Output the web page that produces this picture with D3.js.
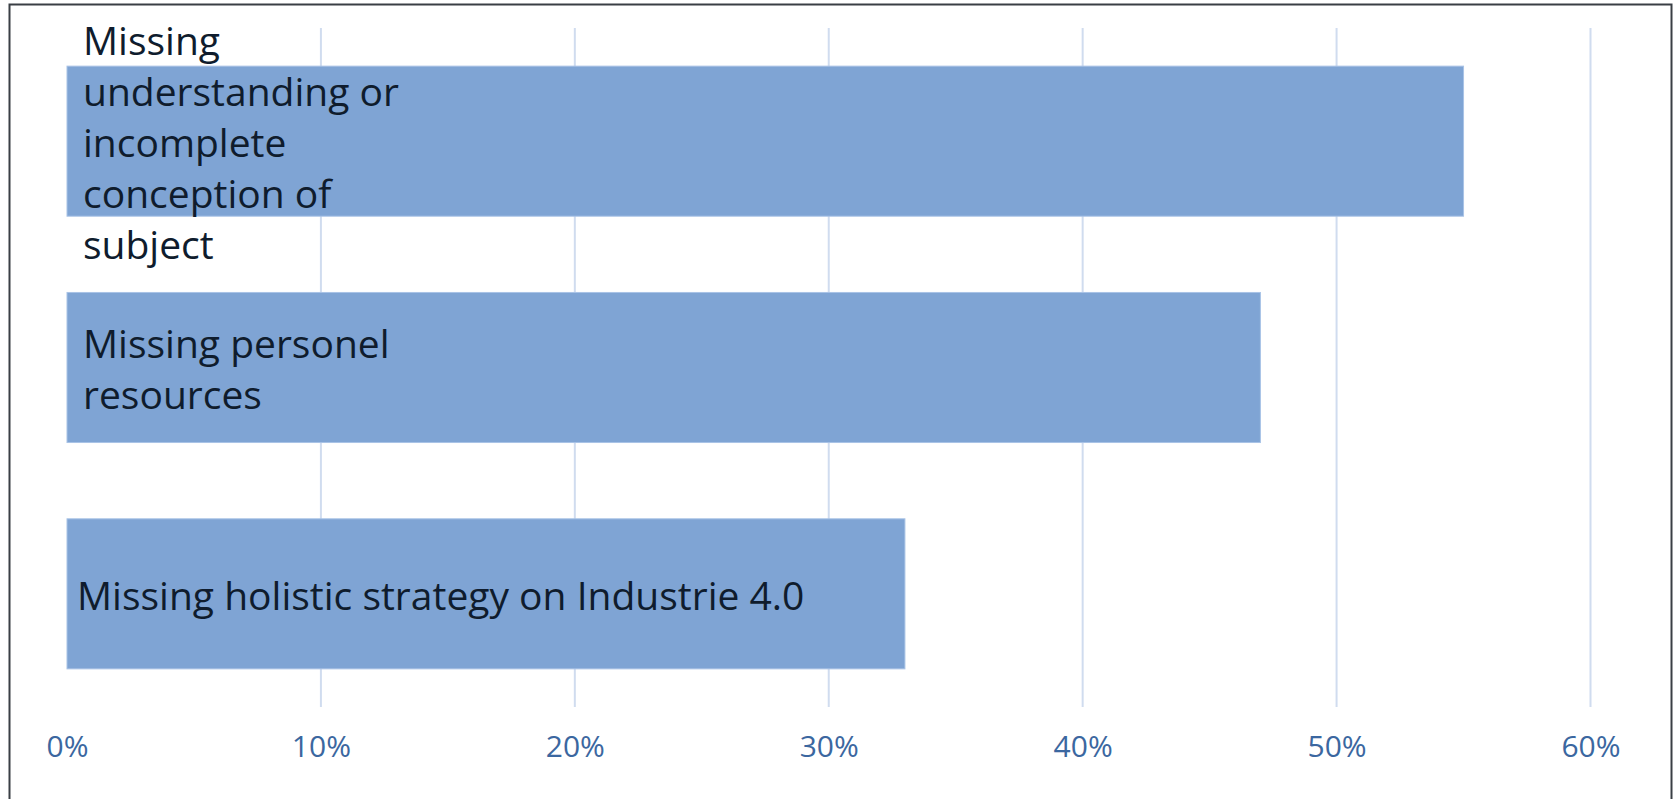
<!DOCTYPE html>
<meta charset="utf-8">
<style>
body { margin: 0; background: #fff; }
.label text { font: 39px "Open Sans", sans-serif; fill: #0f1c2d; }
.tick text { font: 30px "Open Sans", sans-serif; fill: #3b67a0; }
</style>
<body>
<svg width="1674" height="799"></svg>
<script src="https://cdnjs.cloudflare.com/ajax/libs/d3/7.8.5/d3.min.js"></script>
<script>
// categories, top to bottom
var categories = ["understanding", "personel", "strategy"];
var labels = [
  ["Missing", "understanding or", "incomplete", "conception of", "subject"],
  ["Missing personel", "resources"],
  ["Missing holistic strategy on Industrie 4.0"]
];
var values = [0.55, 0.47, 0.33];
var ticks = [0, 0.1, 0.2, 0.3, 0.4, 0.5, 0.6];

var svg = d3.select("svg"),
    width = +svg.attr("width"),
    height = +svg.attr("height");

// outer frame
svg.append("rect")
  .attr("x", 9.5).attr("y", 4.5)
  .attr("width", width - 12).attr("height", height)
  .attr("fill", "none")
  .attr("stroke", "#3a3f45")
  .attr("stroke-width", 2);

var x = d3.scaleLinear().domain([0, 0.6]).range([67, 1590.5]);
var y = d3.scaleBand().domain(categories).range([28, 707])
  .paddingInner(0.337).paddingOuter(0.1685);

// gridlines
svg.append("g")
  .selectAll("line")
  .data(ticks.filter(function(t) { return t > 0; }))
  .enter().append("line")
  .attr("x1", function(d) { return x(d); })
  .attr("x2", function(d) { return x(d); })
  .attr("y1", 28).attr("y2", 707)
  .attr("stroke", "#d0dcef")
  .attr("stroke-width", 2);

// bars
svg.append("g")
  .selectAll("rect")
  .data(values)
  .enter().append("rect")
  .attr("x", x(0))
  .attr("y", function(d, i) { return y(categories[i]); })
  .attr("width", function(d) { return x(d) - x(0); })
  .attr("height", y.bandwidth())
  .attr("fill", "#7fa4d4")
  .attr("stroke", "#a9c3e6")
  .attr("stroke-width", 1);

// labels inside bars
var lineH = 51;
var lab = svg.append("g").attr("class", "label")
  .selectAll("text")
  .data(labels)
  .enter().append("text")
  .attr("y", function(d, i) {
    return y(categories[i]) + y.bandwidth() / 2 - (d.length - 1) * lineH / 2 + 16;
  });

lab.selectAll("tspan")
  .data(function(d) { return d; })
  .enter().append("tspan")
  .attr("x", function(d, i, nodes) { return x(0) + (nodes.length > 1 ? 16 : 10); })
  .attr("dy", function(d, i) { return i === 0 ? 0 : lineH; })
  .text(function(d) { return d; });

// x axis
var axis = d3.axisBottom(x)
  .tickValues(ticks)
  .tickFormat(d3.format(".0%"))
  .tickSize(0)
  .tickPadding(0);

var ax = svg.append("g")
  .attr("transform", "translate(0,736)")
  .call(axis);
ax.select(".domain").remove();
ax.selectAll("text").attr("dy", "0.71em").style("font-family", null);
</script>
</body>
